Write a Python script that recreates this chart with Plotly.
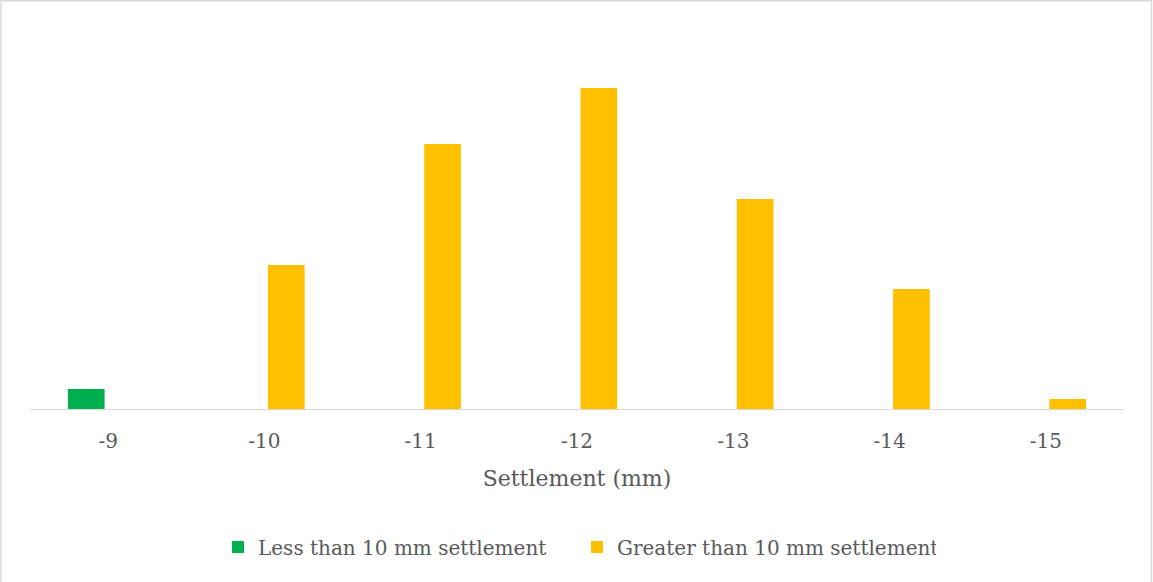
import plotly.graph_objects as go

# Settlement classes (mm) and counts per class
categories = ["-9", "-10", "-11", "-12", "-13", "-14", "-15"]
less_than_10 = [2.0, None, None, None, None, None, None]
greater_than_10 = [None, 14.4, 26.5, 32.1, 21.0, 12.0, 1.0]

W, H = 1153, 582
L, R, T, B = 30, 29, 20, 173
PW, PH = W - L - R, H - T - B

TEXT = "#595959"
FONT = "DejaVu Serif"

fig = go.Figure()
fig.add_trace(go.Bar(x=categories, y=less_than_10, name="Less than 10 mm settlement",
                     marker=dict(color="#00B050", line=dict(width=0))))
fig.add_trace(go.Bar(x=categories, y=greater_than_10, name="Greater than 10 mm settlement",
                     marker=dict(color="#FFC000", line=dict(width=0))))


def px_x(p):
    return (p - L) / PW


def px_y(p):
    return (H - B - p) / PH


fig.update_layout(
    width=W, height=H,
    margin=dict(l=L, r=R, t=T, b=B, pad=0),
    paper_bgcolor="white", plot_bgcolor="white",
    barmode="group", bargap=0.44, bargroupgap=0.162,
    font=dict(family=FONT, color=TEXT, size=20),
    xaxis=dict(
        type="category", showline=True, linecolor="#D9D9D9", linewidth=1,
        ticks="", showgrid=False, zeroline=False,
        tickfont=dict(size=20, color=TEXT), ticklabelstandoff=14,
        title=dict(text="Settlement (mm)", font=dict(size=22, color=TEXT), standoff=18),
    ),
    yaxis=dict(range=[0, PH / 10], visible=False, showgrid=False, zeroline=False),
    showlegend=True,
    legend=dict(
        orientation="h", x=0.5, xanchor="center", y=px_y(547), yanchor="middle",
        font=dict(size=20, color=TEXT), entrywidth=314, entrywidthmode="pixels",
        bgcolor="rgba(0,0,0,0)", traceorder="normal",
    ),
    # chart frame: left, top and right edges
    shapes=[dict(type="path", xref="paper", yref="paper",
                 path=(f"M {px_x(1)} {px_y(590)} L {px_x(1)} {px_y(0.75)} "
                       f"L {px_x(1151.5)} {px_y(0.75)} L {px_x(1151.5)} {px_y(590)}"),
                 line=dict(color="#D9D9D9", width=1.5), fillcolor="rgba(0,0,0,0)", layer="below")],
)

fig.write_html("out.html")
